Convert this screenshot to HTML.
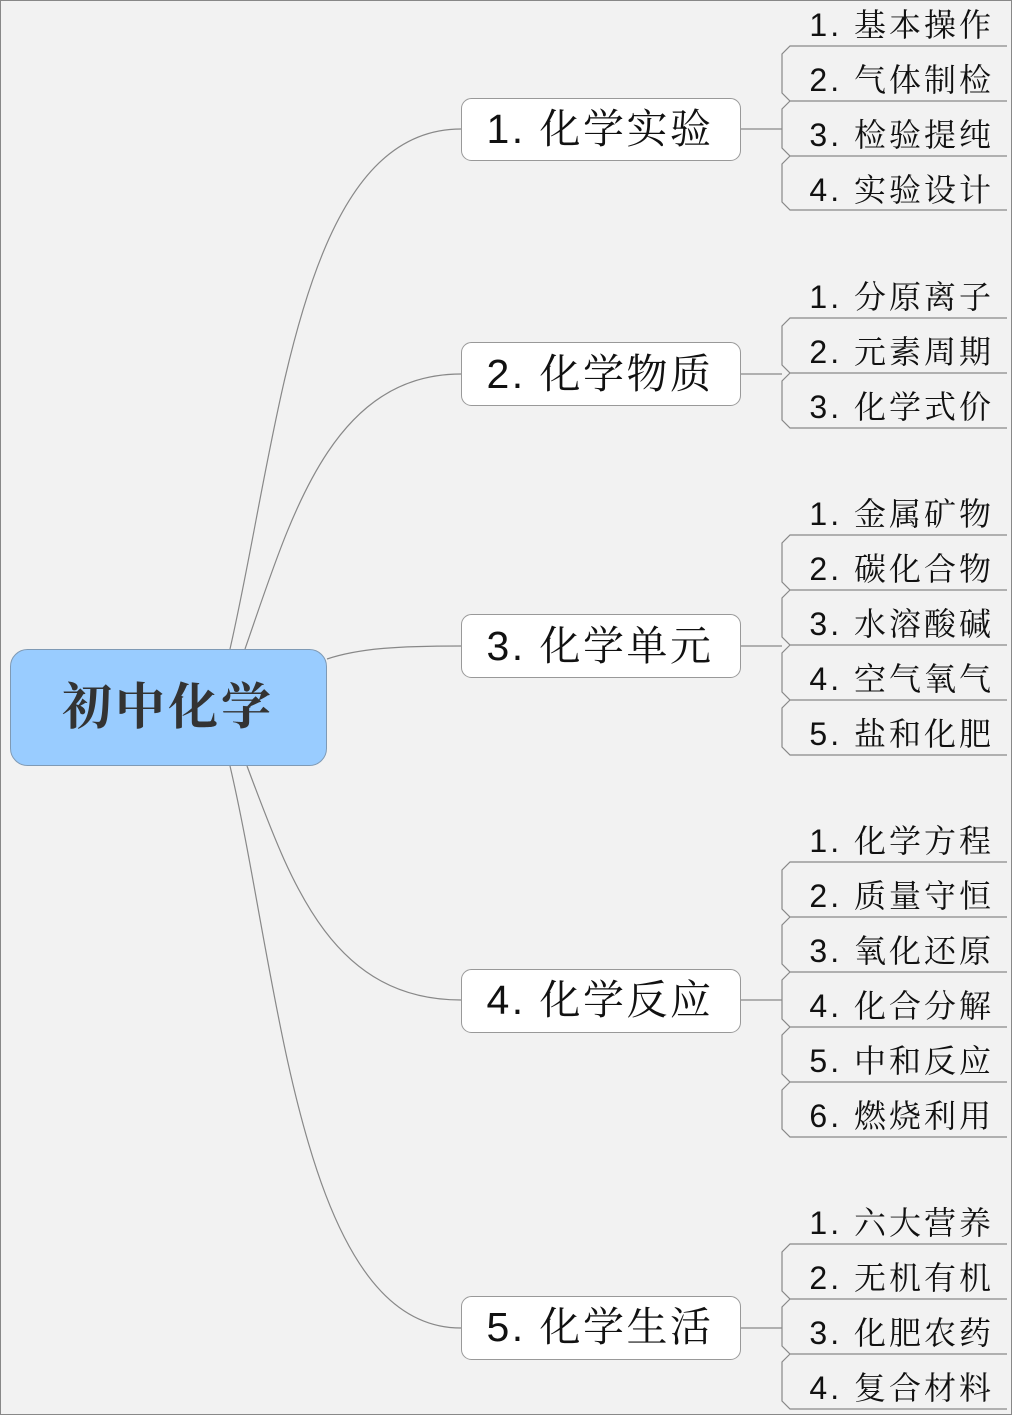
<!DOCTYPE html>
<html><head><meta charset="utf-8"><style>
html,body{margin:0;padding:0;background:#f2f2f2;}
svg{display:block;}
.l{font-family:"Liberation Sans","Noto Serif CJK SC",serif;font-size:32px;fill:#111;text-anchor:end;letter-spacing:3px}
.b{font-family:"Liberation Sans","Noto Serif CJK SC",serif;font-size:41px;fill:#111;text-anchor:middle;letter-spacing:2.5px}
</style></head><body>
<svg width="1012" height="1415" viewBox="0 0 1012 1415" xmlns="http://www.w3.org/2000/svg">
<rect x="0.5" y="0.5" width="1011" height="1414" fill="#f2f2f2" stroke="#888"/>
<g fill="none" stroke="#888" stroke-width="1.2">
<path d="M230,649 C280,430 300,129 461,129"/>
<path d="M245,649 C290,520 330,374 461,374"/>
<path d="M327,659 C360,648 400,646 461,646"/>
<path d="M247,766 C290,880 330,1000 461,1000"/>
<path d="M230,766 C280,980 300,1328 461,1328"/>
<path d="M740,129 H782 M740,374 H782 M740,646 H782 M740,1000 H782 M740,1328 H782"/>
</g>
<rect x="10.5" y="649.5" width="316" height="116" rx="17" fill="#99ccff" stroke="#7f9ab5"/>
<text x="168" y="724" font-family="'Noto Serif CJK SC',serif" font-weight="bold" font-size="50" fill="#333" text-anchor="middle" letter-spacing="3">初中化学</text>
<g fill="#fff" stroke="#999">
<rect x="461.5" y="98.5" width="279" height="62" rx="10"/>
<rect x="461.5" y="342.5" width="279" height="63" rx="10"/>
<rect x="461.5" y="614.5" width="279" height="63" rx="10"/>
<rect x="461.5" y="969.5" width="279" height="63" rx="10"/>
<rect x="461.5" y="1296.5" width="279" height="63" rx="10"/>
</g>
<text class="b" x="600" y="143">1. 化学实验</text>
<text class="b" x="600" y="388">2. 化学物质</text>
<text class="b" x="600" y="660">3. 化学单元</text>
<text class="b" x="600" y="1014">4. 化学反应</text>
<text class="b" x="600" y="1341">5. 化学生活</text>
<g fill="none" stroke="#888" stroke-width="1.2">
<path d="M1007,46 H790 L782,54 V93 L790,101 H1007 M790,101 L782,109 V148 L790,156 H1007 M790,156 L782,164 V202 L790,210 H1007"/>
<path d="M1007,318 H790 L782,326 V365 L790,373 H1007 M790,373 L782,381 V420 L790,428 H1007"/>
<path d="M1007,535 H790 L782,543 V582 L790,590 H1007 M790,590 L782,598 V637 L790,645 H1007 M790,645 L782,653 V692 L790,700 H1007 M790,700 L782,708 V747 L790,755 H1007"/>
<path d="M1007,862 H790 L782,870 V909 L790,917 H1007 M790,917 L782,925 V964 L790,972 H1007 M790,972 L782,980 V1019 L790,1027 H1007 M790,1027 L782,1035 V1074 L790,1082 H1007 M790,1082 L782,1090 V1129 L790,1137 H1007"/>
<path d="M1007,1244 H790 L782,1252 V1291 L790,1299 H1007 M790,1299 L782,1307 V1346 L790,1354 H1007 M790,1354 L782,1362 V1401 L790,1409 H1007"/>
</g>
<g>
<text class="l" x="994" y="36">1. 基本操作</text>
<text class="l" x="994" y="91">2. 气体制检</text>
<text class="l" x="994" y="146">3. 检验提纯</text>
<text class="l" x="994" y="201">4. 实验设计</text>
<text class="l" x="994" y="308">1. 分原离子</text>
<text class="l" x="994" y="363">2. 元素周期</text>
<text class="l" x="994" y="418">3. 化学式价</text>
<text class="l" x="994" y="525">1. 金属矿物</text>
<text class="l" x="994" y="580">2. 碳化合物</text>
<text class="l" x="994" y="635">3. 水溶酸碱</text>
<text class="l" x="994" y="690">4. 空气氧气</text>
<text class="l" x="994" y="745">5. 盐和化肥</text>
<text class="l" x="994" y="852">1. 化学方程</text>
<text class="l" x="994" y="907">2. 质量守恒</text>
<text class="l" x="994" y="962">3. 氧化还原</text>
<text class="l" x="994" y="1017">4. 化合分解</text>
<text class="l" x="994" y="1072">5. 中和反应</text>
<text class="l" x="994" y="1127">6. 燃烧利用</text>
<text class="l" x="994" y="1234">1. 六大营养</text>
<text class="l" x="994" y="1289">2. 无机有机</text>
<text class="l" x="994" y="1344">3. 化肥农药</text>
<text class="l" x="994" y="1399">4. 复合材料</text>
</g>
</svg>
</body></html>
